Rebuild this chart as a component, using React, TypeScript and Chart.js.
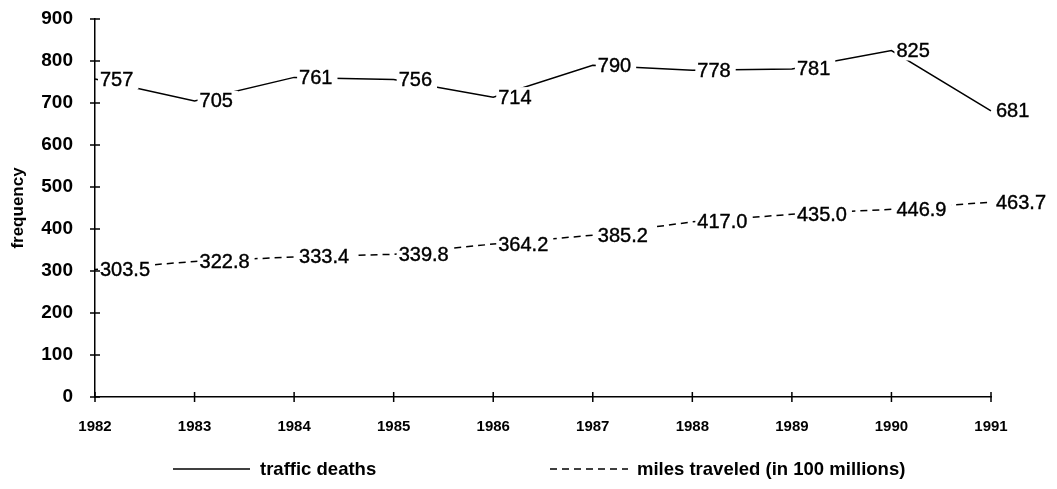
import React, { useEffect, useRef } from "react";
import { Chart, registerables } from "chart.js";

Chart.register(...registerables);

const years = ["1982", "1983", "1984", "1985", "1986", "1987", "1988", "1989", "1990", "1991"];
const trafficDeaths = [757, 705, 761, 756, 714, 790, 778, 781, 825, 681];
const milesTraveled = [303.5, 322.8, 333.4, 339.8, 364.2, 385.2, 417.0, 435.0, 446.9, 463.7];
const seriesNames = ["traffic deaths", "miles traveled (in 100 millions)"];
const yTitle = "frequency";

const INK = "#000";

const labelPlugin = {
  id: "pointLabels",
  afterDatasetsDraw(chart: any) {
    const ctx = chart.ctx;
    ctx.save();
    ctx.font = "20px 'Liberation Sans', Arial, sans-serif";
    ctx.textBaseline = "middle";
    ctx.textAlign = "left";
    chart.data.datasets.forEach((ds: any, di: number) => {
      const meta = chart.getDatasetMeta(di);
      meta.data.forEach((pt: any, i: number) => {
        const v = ds.data[i];
        const txt = di === 1 ? Number(v).toFixed(1) : String(v);
        const w = ctx.measureText(txt).width;
        ctx.fillStyle = "#fff";
        ctx.fillRect(pt.x + 3, pt.y - 10, w + 7, 20);
        ctx.fillStyle = INK;
        ctx.strokeStyle = INK;
        ctx.lineWidth = 0.4;
        ctx.fillText(txt, pt.x + 5, pt.y + 1);
        ctx.strokeText(txt, pt.x + 5, pt.y + 1);
      });
    });
    ctx.restore();
  },
  afterDraw(chart: any) {
    const ctx = chart.ctx;
    const xs = chart.scales.x;
    const ys = chart.scales.y;
    const area = chart.chartArea;
    ctx.save();
    ctx.strokeStyle = INK;
    ctx.lineWidth = 1.5;
    ctx.beginPath();
    xs.ticks.forEach((_: any, i: number) => {
      const x = xs.getPixelForTick(i);
      ctx.moveTo(x, area.bottom - 5);
      ctx.lineTo(x, area.bottom + 5);
    });
    ys.ticks.forEach((_: any, i: number) => {
      const y = ys.getPixelForTick(i);
      ctx.moveTo(area.left - 5, y);
      ctx.lineTo(area.left + 5, y);
    });
    ctx.stroke();

    // legend
    const ly = 461;
    ctx.lineWidth = 1.5;
    ctx.beginPath();
    ctx.setLineDash([]);
    ctx.moveTo(165, ly);
    ctx.lineTo(242, ly);
    ctx.stroke();
    ctx.beginPath();
    ctx.setLineDash([7, 5]);
    ctx.moveTo(542, ly);
    ctx.lineTo(620, ly);
    ctx.stroke();
    ctx.setLineDash([]);
    ctx.fillStyle = INK;
    ctx.font = "bold 18.5px 'Liberation Sans', Arial, sans-serif";
    ctx.textBaseline = "middle";
    ctx.textAlign = "left";
    ctx.fillText(seriesNames[0], 252, ly + 1);
    ctx.fillText(seriesNames[1], 629, ly + 1);
    ctx.restore();
  },
};

export default function App() {
  const ref = useRef<HTMLCanvasElement | null>(null);
  useEffect(() => {
    if (!ref.current) return;
    const chart = new Chart(ref.current, {
      type: "line",
      data: {
        labels: years,
        datasets: [
          {
            label: seriesNames[0],
            data: trafficDeaths,
            borderColor: INK,
            borderWidth: 1.5,
            pointRadius: 0,
            tension: 0,
            fill: false,
          },
          {
            label: seriesNames[1],
            data: milesTraveled,
            borderColor: INK,
            borderWidth: 1.5,
            borderDash: [7, 5],
            pointRadius: 0,
            tension: 0,
            fill: false,
          },
        ],
      },
      options: {
        animation: false,
        responsive: false,
        maintainAspectRatio: false,
        layout: { padding: { top: 11, right: 58, left: 0, bottom: 0 } },
        plugins: {
          legend: { display: false },
          tooltip: { enabled: false },
        },
        scales: {
          x: {
            offset: false,
            grid: { display: false },
            border: { display: true, color: INK, width: 1.5 },
            ticks: {
              color: INK,
              padding: 13,
              maxRotation: 0,
              autoSkip: false,
              font: { family: "'Liberation Sans', Arial, sans-serif", size: 15, weight: "bold" },
            },
            afterFit: (s: any) => {
              s.height = 84;
              s.paddingLeft = 0;
              s.paddingRight = 0;
              s.paddingTop = 0;
              s.paddingBottom = 0;
            },
          },
          y: {
            min: 0,
            max: 900,
            grid: { display: false },
            border: { display: true, color: INK, width: 1.5 },
            ticks: {
              stepSize: 100,
              color: INK,
              padding: 14,
              font: { family: "'Liberation Sans', Arial, sans-serif", size: 19, weight: "bold" },
            },
            title: {
              display: true,
              text: yTitle,
              color: INK,
              padding: 0,
              font: { family: "'Liberation Sans', Arial, sans-serif", size: 17, weight: "bold" },
            },
            afterFit: (s: any) => {
              s.width = 87;
              s.paddingTop = 0;
              s.paddingBottom = 0;
              s.paddingLeft = 0;
              s.paddingRight = 0;
            },
          },
        },
      },
      plugins: [labelPlugin],
    });
    return () => chart.destroy();
  }, []);
  return (
    <div style={{ width: 1041, height: 473 }}>
      <canvas ref={ref} width={1041} height={473} style={{ width: 1041, height: 473 }} />
    </div>
  );
}
